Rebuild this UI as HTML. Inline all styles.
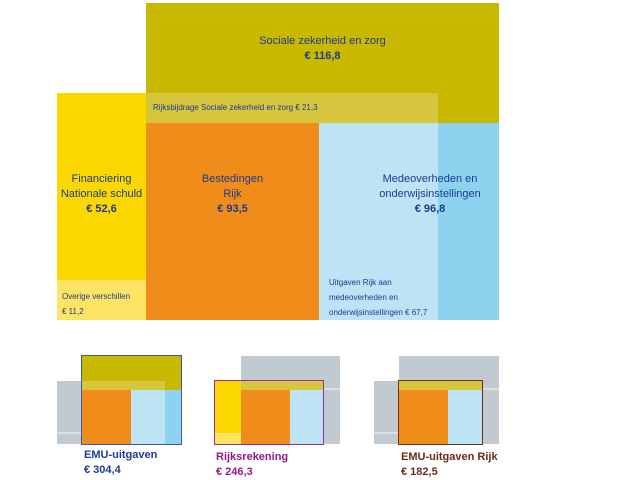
<!DOCTYPE html><html><head><style>
body{margin:0;width:640px;height:480px;background:#fff;position:relative;overflow:hidden;font-family:"Liberation Sans",sans-serif}
div{position:absolute}
.t{color:#1d3a94;text-align:center;font-size:11px;line-height:15px}
.s{color:#1d3a94;font-size:8px;line-height:15px}
.l{font-size:11px;font-weight:bold;line-height:15px}
</style></head><body>
<div style="left:146px;top:3px;width:353px;height:120px;background:#c8b900"></div>
<div style="left:57px;top:93px;width:89px;height:227px;background:#fcd800"></div>
<div style="left:57px;top:280px;width:89px;height:40px;background:#fde464"></div>
<div style="left:146px;top:93px;width:292px;height:30px;background:#d5c63e"></div>
<div style="left:146px;top:123px;width:173px;height:197px;background:#f08c1a"></div>
<div style="left:319px;top:123px;width:119px;height:197px;background:#bde4f4"></div>
<div style="left:438px;top:123px;width:61px;height:197px;background:#8dd2ef"></div>
<div class="t" style="left:146px;top:34px;width:353px">Sociale zekerheid en zorg<br><b>€ 116,8</b></div>
<div class="s" style="left:153px;top:100px">Rijksbijdrage Sociale zekerheid en zorg € 21,3</div>
<div class="t" style="left:57px;top:172px;width:89px">Financiering<br>Nationale schuld<br><b>€ 52,6</b></div>
<div class="t" style="left:146px;top:172px;width:173px">Bestedingen<br>Rijk<br><b>€ 93,5</b></div>
<div class="t" style="left:340px;top:172px;width:180px">Medeoverheden en<br>onderwijsinstellingen<br><b>€ 96,8</b></div>
<div class="s" style="left:62px;top:289px">Overige verschillen<br>€ 11,2</div>
<div class="s" style="left:329px;top:275px">Uitgaven Rijk aan<br>medeoverheden en<br>onderwijsinstellingen € 67,7</div>

<div style="left:57px;top:381px;width:25px;height:63px;background:#c0cad0"></div>
<div style="left:57px;top:432px;width:25px;height:2px;background:#d8e0e4"></div>
<div style="left:82px;top:356px;width:99px;height:34px;background:#c8b900"></div>
<div style="left:82px;top:381px;width:83px;height:9px;background:#d5c63e"></div>
<div style="left:82px;top:390px;width:49px;height:54px;background:#f08c1a"></div>
<div style="left:131px;top:390px;width:34px;height:54px;background:#bde4f4"></div>
<div style="left:165px;top:390px;width:16px;height:54px;background:#8dd2ef"></div>
<div style="left:81px;top:355px;width:99px;height:88px;border:1px solid #3a5ab0"></div>

<div style="left:241px;top:356px;width:99px;height:88px;background:#c0cad0"></div>
<div style="left:323px;top:388px;width:17px;height:2px;background:#d8e0e4"></div>
<div style="left:215px;top:381px;width:26px;height:63px;background:#fcd800"></div>
<div style="left:215px;top:433px;width:26px;height:11px;background:#fde464"></div>
<div style="left:241px;top:381px;width:82px;height:9px;background:#d5c63e"></div>
<div style="left:241px;top:390px;width:49px;height:54px;background:#f08c1a"></div>
<div style="left:290px;top:390px;width:33px;height:54px;background:#bde4f4"></div>
<div style="left:214px;top:380px;width:108px;height:63px;border:1px solid #a02a9a"></div>

<div style="left:399px;top:356px;width:100px;height:88px;background:#c0cad0"></div>
<div style="left:374px;top:381px;width:25px;height:63px;background:#c0cad0"></div>
<div style="left:374px;top:432px;width:25px;height:2px;background:#d8e0e4"></div>
<div style="left:482px;top:388px;width:17px;height:2px;background:#d8e0e4"></div>
<div style="left:399px;top:381px;width:83px;height:9px;background:#d5c63e"></div>
<div style="left:399px;top:390px;width:49px;height:54px;background:#f08c1a"></div>
<div style="left:448px;top:390px;width:34px;height:54px;background:#bde4f4"></div>
<div style="left:398px;top:380px;width:83px;height:63px;border:1px solid #6b3020"></div>

<div class="l" style="left:84px;top:448px;color:#1d3a94">EMU-uitgaven<br>€ 304,4</div>
<div class="l" style="left:216px;top:450px;color:#8e1b8a">Rijksrekening<br>€ 246,3</div>
<div class="l" style="left:401px;top:450px;color:#6b2a1a">EMU-uitgaven Rijk<br>€ 182,5</div>
</body></html>
